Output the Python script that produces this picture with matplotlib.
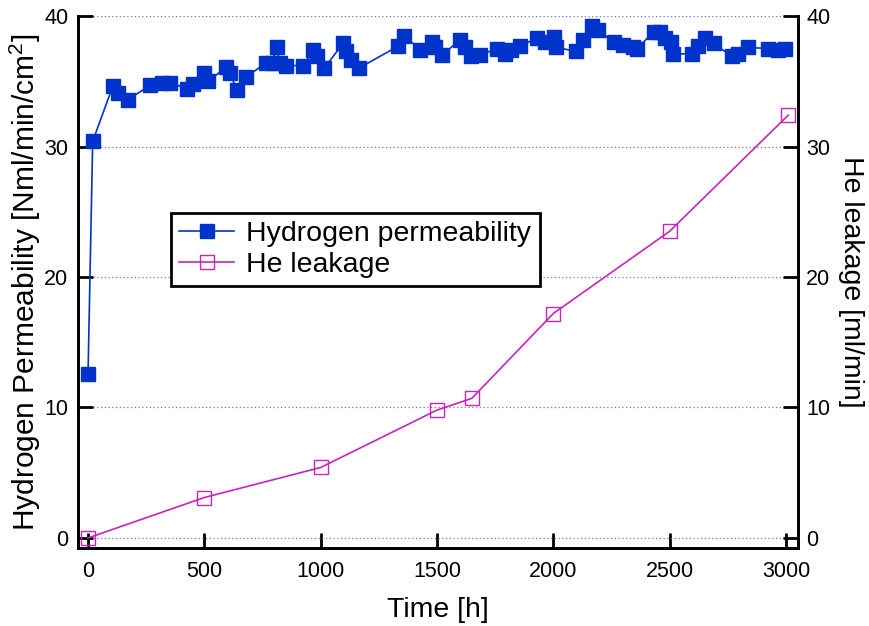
import matplotlib
matplotlib.use("Agg")
import matplotlib.pyplot as plt

plt.rcParams['font.family'] = ['Liberation Sans', 'DejaVu Sans']
plt.rcParams['mathtext.fontset'] = 'custom'
plt.rcParams['mathtext.rm'] = 'Liberation Sans'
plt.rcParams['mathtext.it'] = 'Liberation Sans'

# Hydrogen permeability [Nml/min/cm2] vs time [h]
h2_time = [0, 20, 106, 129, 172, 268, 317, 353, 427, 453, 497, 517, 595, 612, 639, 678,
           764, 790, 811, 825, 851, 926, 969, 985, 1015, 1096, 1109, 1129, 1164,
           1334, 1359, 1429, 1477, 1490, 1523, 1599, 1621, 1647, 1685, 1758, 1793, 1820,
           1857, 1929, 1965, 2002, 2010, 2097, 2127, 2165, 2191, 2259, 2298, 2341, 2359,
           2433, 2458, 2481, 2505, 2516, 2595, 2624, 2653, 2691, 2767, 2796, 2839, 2925,
           2965, 2997]
h2_perm = [12.6, 30.4, 34.6, 34.1, 33.6, 34.7, 34.9, 34.9, 34.4, 34.8, 35.6, 35.0, 36.1, 35.6, 34.3, 35.3,
           36.4, 36.4, 37.6, 36.4, 36.2, 36.2, 37.4, 36.9, 36.0, 37.9, 37.3, 36.6, 36.0,
           37.7, 38.5, 37.4, 38.0, 37.6, 37.0, 38.2, 37.6, 36.9, 37.0, 37.5, 37.1, 37.4,
           37.7, 38.3, 38.0, 38.4, 37.6, 37.3, 38.2, 39.2, 38.9, 38.0, 37.8, 37.6, 37.5,
           38.8, 38.8, 38.3, 38.0, 37.1, 37.1, 37.7, 38.3, 37.9, 36.9, 37.1, 37.6, 37.5,
           37.4, 37.5]

# He leakage [ml/min]
he_time = [0, 500, 1000, 1500, 1650, 2000, 2500, 3010]
he_leak = [0.0, 3.1, 5.4, 9.8, 10.7, 17.2, 23.5, 32.4]

x_ticks = [0, 500, 1000, 1500, 2000, 2500, 3000]
y_ticks = [0, 10, 20, 30, 40]

blue = '#0033CC'
pink = '#CC22BB'
grid_c = '#7070E8'

fig = plt.figure(figsize=(8.69, 6.26), dpi=100)
ax = fig.add_axes([0.0898, 0.1246, 0.8285, 0.8498])
ax2 = ax.twinx()

l1, = ax.plot(h2_time, h2_perm, color=blue, lw=1.2, marker='s', ms=10,
              mfc=blue, mec=blue, label='Hydrogen permeability', zorder=3)
l2, = ax2.plot(he_time, he_leak, color=pink, lw=1.2, marker='s', ms=10,
               mfc='none', mec=pink, mew=1.0, label='He leakage', zorder=3)

for a in (ax, ax2):
    a.set_xlim(-43, 3052)
    a.set_ylim(-0.77, 40)
    a.set_yticks(y_ticks)
    a.spines['top'].set_visible(False)
    for s in ('left', 'right', 'bottom'):
        a.spines[s].set_linewidth(2)

ax.set_xticks(x_ticks)
ax.yaxis.grid(True, linestyle=(0, (1, 2)), color=grid_c, lw=0.9)
ax.set_axisbelow(True)

ax.tick_params(axis='both', direction='in', length=11, width=2, labelsize=15.5, pad=9)
ax.tick_params(axis='y', pad=7)
ax2.tick_params(axis='y', direction='in', length=11, width=2, labelsize=15.5, pad=6)

ax.set_xlabel('Time [h]', fontsize=20.5, labelpad=11)
ax.set_ylabel('Hydrogen Permeability [Nml/min/cm$^{2}$]', fontsize=21.5, labelpad=1)
ax2.set_ylabel('He leakage [ml/min]', fontsize=20.5, rotation=270, labelpad=24)

leg = ax.legend(handles=[l1, l2], loc='upper left', bbox_to_anchor=(0.129, 0.630),
                fontsize=20.5, frameon=True, fancybox=False, framealpha=1,
                edgecolor='black', handlelength=1.9, handletextpad=0.45,
                labelspacing=0.15, borderpad=0.3, borderaxespad=0)
leg.get_frame().set_linewidth(2)

fig.savefig('out.png', dpi=100)
